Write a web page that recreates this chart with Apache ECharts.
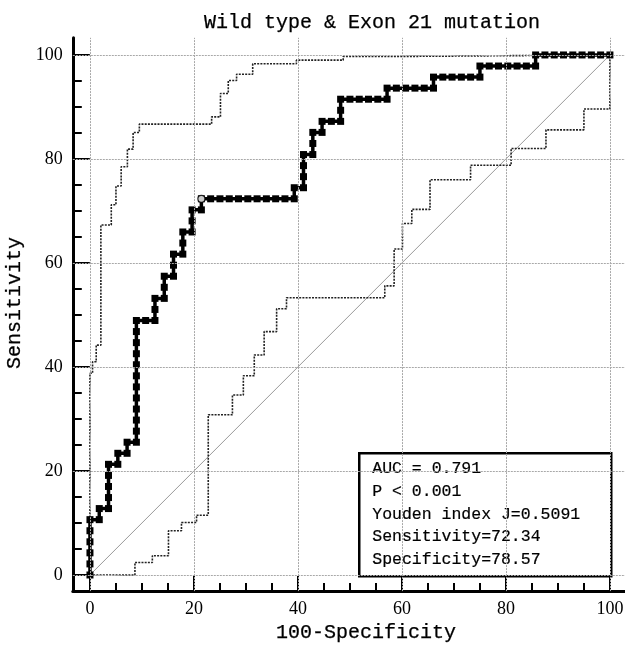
<!DOCTYPE html>
<html>
<head>
<meta charset="utf-8">
<script src="https://cdn.jsdelivr.net/npm/echarts@6/dist/echarts.min.js"></script>
<style>
html,body{margin:0;padding:0;background:#fff;}
#chart{width:625px;height:645px;}
</style>
</head>
<body>
<div id="chart"></div>
<script>
// ---- data ----
const chartTitle = 'Wild type & Exon 21 mutation';
const xName = '100-Specificity';
const yName = 'Sensitivity';
const majorTicks = [0, 20, 40, 60, 80, 100];
const minorTicks = [5, 10, 15, 25, 30, 35, 45, 50, 55, 65, 70, 75, 85, 90, 95];

// empirical ROC points (100-Specificity, Sensitivity)
const rocX = [
  0,0,0,0,0,0,
  1.79,1.79,
  3.57,3.57,3.57,3.57,3.57,
  5.36,5.36,
  7.14,7.14,
  8.93,8.93,8.93,8.93,8.93,8.93,8.93,8.93,8.93,8.93,8.93,8.93,
  10.71,
  12.5,12.5,12.5,
  14.29,14.29,14.29,
  16.07,16.07,16.07,
  17.86,17.86,17.86,
  19.64,19.64,19.64,
  21.43,21.43,
  23.21,25,26.79,28.57,30.36,32.14,33.93,35.71,37.5,39.29,
  39.29,
  41.07,41.07,41.07,41.07,
  42.86,42.86,42.86,
  44.64,44.64,
  46.43,48.21,48.21,48.21,
  50,51.79,53.57,55.36,57.14,57.14,
  58.93,60.71,62.5,64.29,66.07,66.07,
  67.86,69.64,71.43,73.21,75,75,
  76.79,78.57,80.36,82.14,83.93,85.71,85.71,
  87.5,89.29,91.07,92.86,94.64,96.43,98.21,100
];
const rocY = [
  0,2.13,4.26,6.38,8.51,10.64,
  10.64,12.77,
  12.77,14.89,17.02,19.15,21.28,
  21.28,23.4,
  23.4,25.53,
  25.53,27.66,29.79,31.91,34.04,36.17,38.3,40.43,42.55,44.68,46.81,48.94,
  48.94,
  48.94,51.06,53.19,
  53.19,55.32,57.45,
  57.45,59.57,61.7,
  61.7,63.83,65.96,
  65.96,68.09,70.21,
  70.21,72.34,
  72.34,72.34,72.34,72.34,72.34,72.34,72.34,72.34,72.34,72.34,
  74.47,
  74.47,76.6,78.72,80.85,
  80.85,82.98,85.11,
  85.11,87.23,
  87.23,87.23,89.36,91.49,
  91.49,91.49,91.49,91.49,91.49,93.62,
  93.62,93.62,93.62,93.62,93.62,95.74,
  95.74,95.74,95.74,95.74,95.74,97.87,
  97.87,97.87,97.87,97.87,97.87,97.87,100,
  100,100,100,100,100,100,100,100
];

// confidence bounds (step points: x where the jump happens, value after jump)
const upperX = [0, 0, 0.5, 1.2, 2.1, 4.1, 5.0, 6.0, 7.2, 8.3, 9.5, 23.4, 25.1, 26.6, 28.2, 31.3, 39.7, 48.7, 58.0, 100];
const upperY = [0, 38.8, 41.0, 44.2, 67.3, 71.2, 74.8, 78.5, 81.9, 85.1, 86.7, 88.1, 92.6, 95.1, 96.3, 98.3, 99.0, 99.7, 100, 100];
const lowerX = [0, 8.65, 12.0, 15.1, 17.6, 20.5, 22.75, 27.4, 29.5, 31.6, 33.5, 35.9, 37.8, 56.7, 58.5, 60.1, 61.9, 65.4, 73.2, 81.0, 87.7, 95.0, 100];
const lowerY = [0, 2.4, 3.7, 8.5, 10.1, 11.5, 30.8, 34.6, 38.3, 42.3, 46.8, 51.2, 53.3, 55.6, 62.7, 67.6, 70.3, 76.0, 78.8, 82.0, 85.6, 89.6, 100];

const optimalPoint = [21.43, 72.34];
const diagonal = [[0, 0], [100, 100]];
const statsLines = ['AUC = 0.791', 'P < 0.001', 'Youden index J=0.5091', 'Sensitivity=72.34', 'Specificity=78.57'];

// ---- chart ----
const zip = (a, b) => a.map((v, i) => [v, b[i]]);
const mono = 'Liberation Mono';
const serif = 'Liberation Serif';
const thick = {textBorderColor: '#000', textBorderWidth: 0.25};

const chart = echarts.init(document.getElementById('chart'), null, {renderer: 'canvas'});

const gridLineData = majorTicks.map(v => ({xAxis: v})).concat(majorTicks.map(v => ({yAxis: v})));

const axisCommonX = {type: 'value', min: -3.3, max: 102.9, gridIndex: 0, position: 'bottom'};
const axisCommonY = {type: 'value', min: -3.1, max: 103.3, gridIndex: 0, position: 'left'};

const option = {
  animation: false,
  backgroundColor: '#fff',
  title: {
    text: chartTitle,
    left: 199, top: 8,
    textStyle: Object.assign({fontFamily: mono, fontSize: 20, fontWeight: 'normal', color: '#000'}, thick)
  },
  grid: {left: 72.8, right: 0, top: 37.8, bottom: 53.9, outerBoundsMode: 'none', containLabel: false},
  xAxis: [
    Object.assign({}, axisCommonX, {
      name: xName, nameLocation: 'middle', nameGap: 31,
      nameTextStyle: Object.assign({fontFamily: mono, fontSize: 20, color: '#000', padding: [0, 0, 0, 34]}, thick),
      axisLine: {show: true, onZero: false, lineStyle: {color: '#000', width: 3}},
      axisTick: {show: true, inside: true, length: 15, customValues: majorTicks, lineStyle: {color: '#000', width: 2}},
      axisLabel: {show: true, customValues: majorTicks, fontFamily: serif, fontSize: 18, color: '#000', margin: 9},
      splitLine: {show: false}
    }),
    Object.assign({}, axisCommonX, {
      axisLine: {show: false, onZero: false},
      axisTick: {show: true, inside: true, length: 8, customValues: minorTicks, lineStyle: {color: '#000', width: 2}},
      axisLabel: {show: false},
      splitLine: {show: false}
    })
  ],
  yAxis: [
    Object.assign({}, axisCommonY, {
      name: yName, nameLocation: 'middle', nameGap: 46,
      nameTextStyle: Object.assign({fontFamily: mono, fontSize: 20, color: '#000', padding: [0, 0, 0, 23]}, thick),
      axisLine: {show: true, onZero: false, lineStyle: {color: '#000', width: 3}},
      axisTick: {show: true, inside: true, length: 17, customValues: majorTicks, lineStyle: {color: '#000', width: 2}},
      axisLabel: {show: true, customValues: majorTicks, fontFamily: serif, fontSize: 18, color: '#000', margin: 10},
      splitLine: {show: false}
    }),
    Object.assign({}, axisCommonY, {
      axisLine: {show: false, onZero: false},
      axisTick: {show: true, inside: true, length: 9, customValues: minorTicks, lineStyle: {color: '#000', width: 2}},
      axisLabel: {show: false},
      splitLine: {show: false}
    })
  ],
  series: [
    {
      name: 'diagonal', type: 'line', data: diagonal, xAxisIndex: 0, yAxisIndex: 0,
      showSymbol: false, silent: true, z: 1,
      lineStyle: {color: '#9a9a9a', width: 1},
      markLine: {
        silent: true, symbol: ['none', 'none'], animation: false,
        label: {show: false},
        lineStyle: {color: '#a8a8a8', width: 1, type: [2, 1]},
        data: gridLineData
      }
    },
    {
      name: 'upper', type: 'line', data: zip(upperX, upperY), step: 'end',
      showSymbol: false, silent: true, z: 2,
      lineStyle: {color: '#222', width: 1.6, type: [2, 1.2]}
    },
    {
      name: 'lower', type: 'line', data: zip(lowerX, lowerY), step: 'end',
      showSymbol: false, silent: true, z: 2,
      lineStyle: {color: '#222', width: 1.6, type: [2, 1.2]}
    },
    {
      name: 'ROC', type: 'line', data: zip(rocX, rocY),
      showSymbol: true, showAllSymbol: true, symbol: 'rect', symbolSize: 7, z: 3,
      itemStyle: {color: '#000', borderWidth: 0},
      lineStyle: {color: '#000', width: 3.5}
    },
    {
      name: 'optimal', type: 'scatter', data: [optimalPoint], symbol: 'circle', symbolSize: 7, z: 4,
      itemStyle: {color: '#fff', borderColor: '#000', borderWidth: 1.2}
    }
  ],
  graphic: [
    {
      type: 'group', left: 358, top: 452, z: 100,
      children: [
        {type: 'rect', shape: {x: 0, y: 0, width: 252, height: 123}, style: {fill: '#fff', stroke: '#000', lineWidth: 2.5}}
      ].concat(statsLines.map((t, i) => ({
        type: 'text', x: 13, y: 15.7 + i * 22.65,
        style: {text: t, fontFamily: mono, fontSize: 16.5, fill: '#000', stroke: '#000', lineWidth: 0.2, verticalAlign: 'middle', align: 'left'}
      })))
    }
  ]
};
chart.setOption(option);
</script>
</body>
</html>
